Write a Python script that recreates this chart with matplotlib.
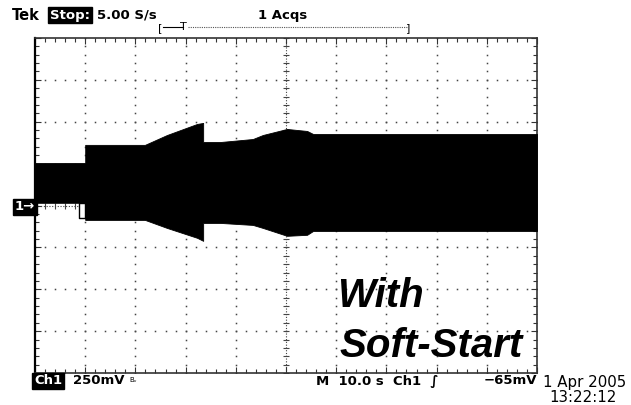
import numpy as np
import matplotlib
matplotlib.use("Agg")
import matplotlib.pyplot as plt

# scope settings: 10 s/div, 250 mV/div, 10 x 8 divisions
sec_per_div = 10.0
volt_per_div = 0.25

# envelope of the trace (seconds, volts)
env_t = [0, 10.0, 10.0, 21.9, 26.3, 32.3, 33.5, 33.5, 36.9, 43.4, 45.4, 50.2, 54.2, 55.4, 100]
env_top = [0.254, 0.254, 0.362, 0.362, 0.421, 0.487, 0.493, 0.379, 0.379, 0.397, 0.421, 0.457, 0.445, 0.427, 0.427]
env_bot = [0.016, 0.016, -0.086, -0.086, -0.134, -0.193, -0.211, -0.104, -0.104, -0.116, -0.134, -0.181, -0.175, -0.152, -0.152]

# little box just before the step
notch_t = [8.8, 10.0]
notch_v = [-0.074, 0.016]

W, H = 631, 405
fig = plt.figure(figsize=(W / 100, H / 100), dpi=100)
ax = fig.add_axes([35 / W, 1 - 373 / H, (537 - 35) / W, (373 - 38) / H])

xmax = 10 * sec_per_div
ymax = 4 * volt_per_div
ax.set_xlim(0, xmax)
ax.set_ylim(-ymax, ymax)

# dotted graticule
dot = dict(ls="none", marker="s", ms=1.1, mec="none", mfc="#444444", zorder=1)
vminor = np.arange(-ymax, ymax + 1e-9, volt_per_div / 5)
tminor = np.arange(0, xmax + 1e-9, sec_per_div / 5)
for k in range(1, 10):
    if k == 5:
        continue
    ax.plot(np.full_like(vminor, k * sec_per_div), vminor, **dot)
for k in range(-3, 4):
    if k == 0:
        continue
    ax.plot(tminor, np.full_like(tminor, k * volt_per_div), **dot)

# centre cross with ticks
ax.axvline(50, color="#444444", lw=0.8, ls=(0, (1, 1.5)), zorder=1)
ax.axhline(0, color="#444444", lw=0.8, ls=(0, (1, 1.5)), zorder=1)
ax.plot(np.full_like(vminor, 50), vminor, ls="none", marker="_", ms=5, mew=0.8, color="#444444", zorder=1)
ax.plot(tminor, np.zeros_like(tminor), ls="none", marker="|", ms=5, mew=0.8, color="#444444", zorder=1)

# the trace
ax.fill_between(env_t, env_bot, env_top, color="black", lw=0.6, edgecolor="black", zorder=3)
ax.fill_between(notch_t, [notch_v[0]] * 2, [notch_v[1]] * 2, facecolor="white",
                edgecolor="black", lw=1.0, zorder=3)

# border ticks
ax.set_xticks(np.arange(0, xmax + 1, sec_per_div))
ax.set_yticks(np.arange(-ymax, ymax + 1e-9, volt_per_div))
ax.set_xticks(tminor, minor=True)
ax.set_yticks(vminor, minor=True)
ax.tick_params(which="both", direction="in", top=True, right=True,
               labelbottom=False, labelleft=False, color="#333333")
ax.tick_params(which="major", length=4, width=0.8)
ax.tick_params(which="minor", length=3, width=0.8)
for side in ax.spines.values():
    side.set_linewidth(1.2)
    side.set_color("#333333")
ax.spines["left"].set_color("black")
ax.spines["left"].set_linewidth(1.6)

def px(x, y):
    return x / W, 1 - y / H

scope_font = dict(family="DejaVu Sans", fontsize=9.5, weight="bold", va="center")
inv = dict(boxstyle="square,pad=0.12", fc="black", ec="black")

# header
fig.text(*px(12, 15), "Tek", family="DejaVu Sans", fontsize=10.5, weight="bold", va="center")
fig.text(*px(50, 15), "Stop:", color="white", bbox=inv, **scope_font)
fig.text(*px(97, 15), "5.00 S/s", **scope_font)
fig.text(*px(258, 15), "1 Acqs", **scope_font)
fig.text(*px(158, 28), "[", family="DejaVu Sans", fontsize=8, va="center")
fig.text(*px(180, 27), "T", family="DejaVu Sans", fontsize=8, va="center")
fig.add_artist(plt.Line2D([163 / W, 183 / W], [1 - 27 / H] * 2, color="black", lw=0.8))
fig.add_artist(plt.Line2D([188 / W, 407 / W], [1 - 27 / H] * 2, color="#555555", lw=0.8,
                          ls=(0, (1, 1))))
fig.text(*px(406, 28), "]", family="DejaVu Sans", fontsize=8, va="center")

# channel marker
fig.text(*px(15, 207), "1\u2192", color="white", bbox=inv, **scope_font)

# footer
fig.text(*px(34, 381), "Ch1", color="white", bbox=inv, **scope_font)
fig.text(*px(73, 381), "250mV", **scope_font)
fig.text(*px(129, 380), "B\u1d65", family="DejaVu Sans", fontsize=5, va="center")
fig.text(*px(316, 381), "M  10.0 s  Ch1  \u222b", **scope_font)
fig.text(*px(537, 381), "\u221265mV", ha="right", **scope_font)
fig.text(*px(543, 383), "1 Apr 2005", family="DejaVu Sans", fontsize=10.8, va="center")
fig.text(*px(549, 398), "13:22:12", family="DejaVu Sans", fontsize=10.8, va="center")

# annotation
label = dict(family="Liberation Sans", fontsize=29, weight="bold", style="italic",
             va="baseline", zorder=5)
ax.text(*ax.transAxes.inverted().transform(fig.transFigure.transform(px(337, 307))),
        "With", transform=ax.transAxes, **label)
ax.text(*ax.transAxes.inverted().transform(fig.transFigure.transform(px(339, 357))),
        "Soft-Start", transform=ax.transAxes, **label)

fig.savefig("out.png", dpi=100, facecolor="white")
